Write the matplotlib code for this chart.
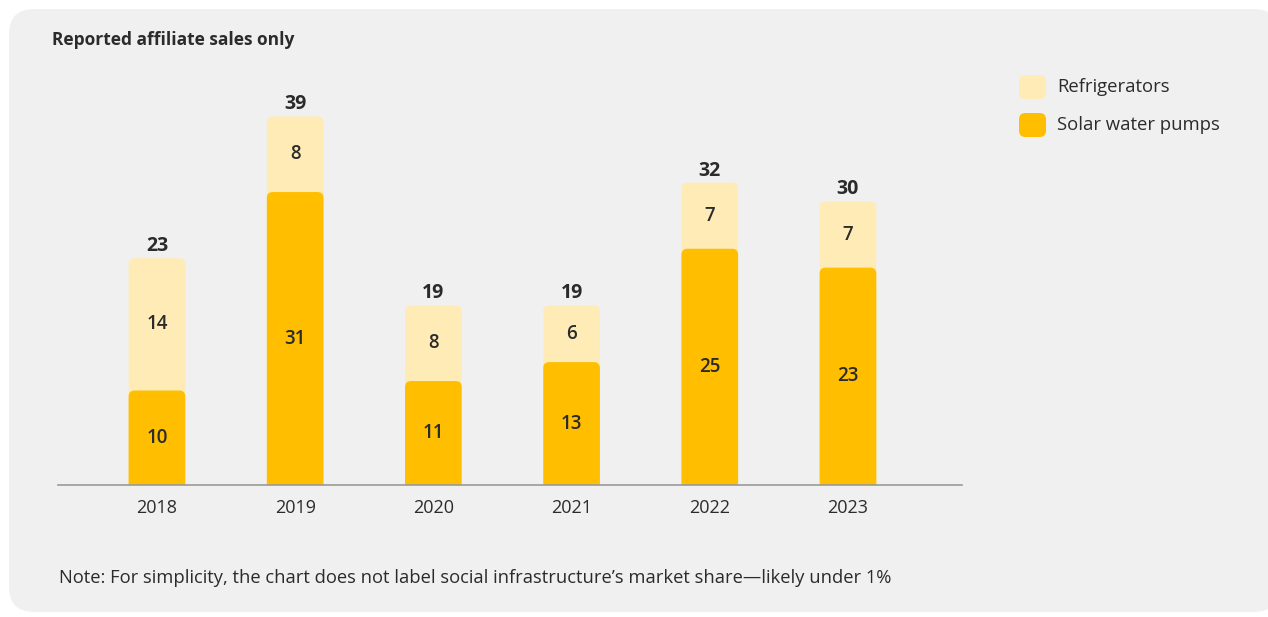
import matplotlib.pyplot as plt
from matplotlib.patches import FancyBboxPatch

plt.rcParams['font.family'] = ['Open Sans', 'DejaVu Sans']

# 数据
years = ['2018', '2019', '2020', '2021', '2022', '2023']
solar_pumps = [10, 31, 11, 13, 25, 23]
refrigerators = [14, 8, 8, 6, 7, 7]
totals = [23, 39, 19, 19, 32, 30]

solar_color = '#FFBE00'
fridge_color = '#FFEBB5'
panel_color = '#F0F0F0'
text_color = '#2B2B2B'

W, H = 1268, 617
fig = plt.figure(figsize=(W / 100, H / 100), dpi=100)
fig.patch.set_facecolor('white')

# 圆角背景（放在坐标轴下面）
panel = FancyBboxPatch((9 / W, 5 / H), 1270 / W, 603 / H,
                       boxstyle='round,pad=0,rounding_size=0.02',
                       mutation_aspect=W / H, transform=fig.transFigure,
                       facecolor=panel_color, edgecolor='none', zorder=-5)
fig.patches.append(panel)

px_per_unit = 9.45
ymax = 42
ax_h = ymax * px_per_unit
ax = fig.add_axes([58 / W, (H - 485) / H, (962 - 58) / W, ax_h / H])
ax.set_facecolor('none')
ax.set_ylim(0, ymax)
x = list(range(len(years)))
ax.set_xlim(-0.716, 5.825)
for s in ax.spines.values():
    s.set_visible(False)
ax.set_yticks([])
ax.set_xticks(x)
ax.set_xticklabels(years, fontsize=13, color=text_color)
ax.tick_params(axis='x', length=0, pad=10)
ax.axhline(0, color='#9A9A9A', lw=1.2, clip_on=False, zorder=5)

stack_tops = [s + r for s, r in zip(solar_pumps, refrigerators)]
width = 0.41


def rounded_bars(bars, color):
    # 把默认矩形换成上方圆角的柱子，下沿伸到 0 以下被坐标轴裁掉
    bbox_w = ax.get_position().width * W
    x_span = ax.get_xlim()[1] - ax.get_xlim()[0]
    aspect = (1 / px_per_unit) / (x_span / bbox_w)
    r = 6 * x_span / bbox_w
    for b in bars:
        b.set_visible(False)
        h = b.get_height()
        p = FancyBboxPatch((b.get_x(), -2), b.get_width(), h + 2,
                           boxstyle=f'round,pad=0,rounding_size={r}',
                           mutation_aspect=aspect, facecolor=color,
                           edgecolor='none', zorder=b.get_zorder())
        ax.add_patch(p)


fridge_bars = ax.bar(x, stack_tops, width=width, color=fridge_color, zorder=2)
solar_bars = ax.bar(x, solar_pumps, width=width, color=solar_color, zorder=3)
rounded_bars(fridge_bars, fridge_color)
rounded_bars(solar_bars, solar_color)

for i in x:
    ax.text(i, solar_pumps[i] / 2, str(solar_pumps[i]), ha='center', va='center',
            fontsize=13.5, fontweight='semibold', color=text_color, zorder=6)
    ax.text(i, solar_pumps[i] + refrigerators[i] / 2, str(refrigerators[i]),
            ha='center', va='center', fontsize=13.5, fontweight='semibold',
            color=text_color, zorder=6)
    ax.annotate(str(totals[i]), (i, stack_tops[i]), xytext=(0, 1.5),
                textcoords='offset points', ha='center', va='bottom',
                fontsize=14, fontweight='bold', color=text_color, zorder=6)

# 标题和注释
fig.text(52 / W, 1 - 40 / H, 'Reported affiliate sales only', fontsize=12.5,
         fontweight='bold', color=text_color, va='center')
fig.text(59 / W, 1 - 578 / H,
         'Note: For simplicity, the chart does not label social infrastructure\u2019s '
         'market share\u2014likely under 1%',
         fontsize=13.2, color=text_color, va='center')

# 图例
legend_items = [('Refrigerators', fridge_color, 87), ('Solar water pumps', solar_color, 125)]
for label, color, yc in legend_items:
    sw = FancyBboxPatch((1019 / W, (H - yc - 12) / H), 27 / W, 24 / H,
                        boxstyle='round,pad=0,rounding_size=0.005',
                        mutation_aspect=W / H, transform=fig.transFigure,
                        facecolor=color, edgecolor='none')
    fig.patches.append(sw)
    fig.text(1057 / W, 1 - yc / H, label, fontsize=13.3, color=text_color, va='center')

fig.savefig('out.png', dpi=100, facecolor='white')
